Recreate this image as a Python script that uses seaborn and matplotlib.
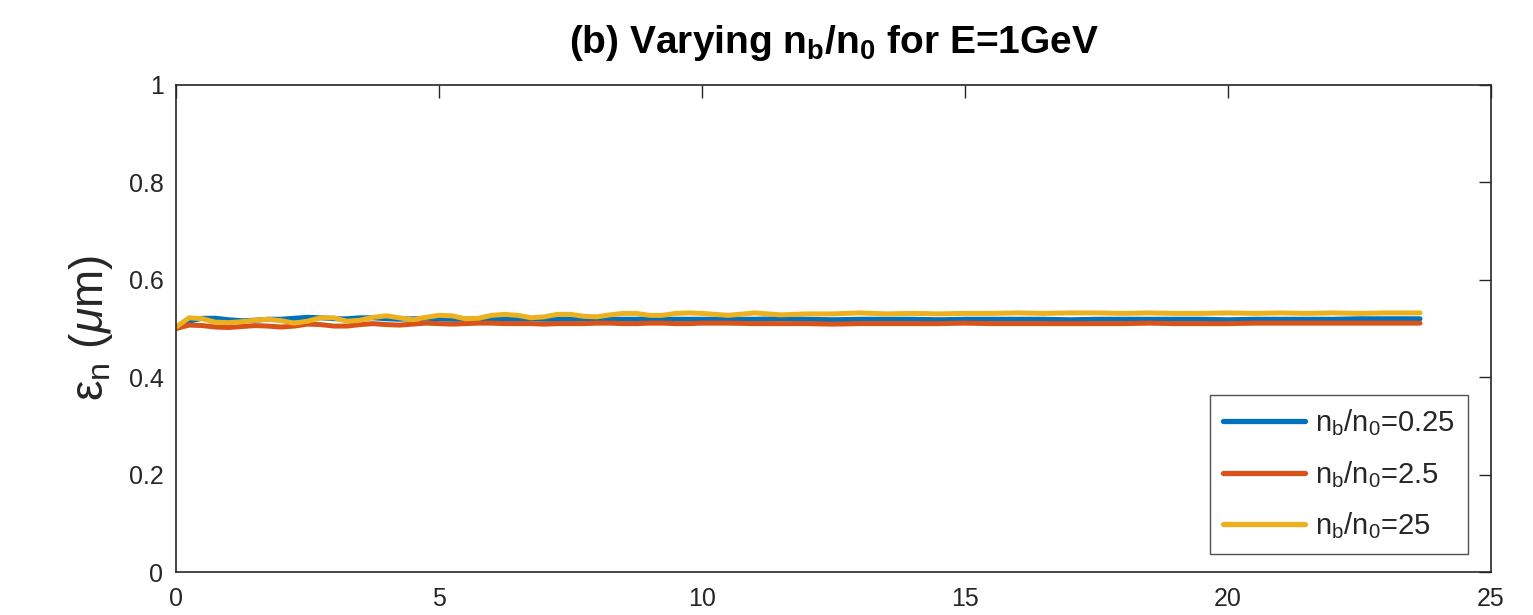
import numpy as np
import pandas as pd
import matplotlib
matplotlib.use("Agg")
import matplotlib.pyplot as plt
import seaborn as sns

# propagation distance (shared by all three runs)
x_vals = [0.0, 0.25, 0.5, 0.75, 1.0, 1.25, 1.5, 1.75, 2.0, 2.25, 2.5, 2.75, 3.0,
          3.25, 3.5, 3.75, 4.0, 4.25, 4.5, 4.75, 5.0, 5.25, 5.5, 5.75, 6.0, 6.25,
          6.5, 6.75, 7.0, 7.25, 7.5, 7.75, 8.0, 8.25, 8.5, 8.75, 9.0, 9.25, 9.5,
          9.75, 10.0, 10.5, 11.0, 11.5, 12.0, 12.5, 13.0, 13.5, 14.0, 14.5, 15.0,
          15.5, 16.0, 16.5, 17.0, 17.5, 18.0, 18.5, 19.0, 19.5, 20.0, 20.5, 21.0,
          21.5, 22.0, 22.5, 23.0, 23.5, 23.65]

# normalised emittance (um) for each density ratio
eps_025 = [0.500, 0.515, 0.521, 0.521, 0.518, 0.516, 0.517, 0.519, 0.519, 0.521,
           0.523, 0.522, 0.520, 0.520, 0.522, 0.522, 0.520, 0.519, 0.520, 0.521,
           0.520, 0.519, 0.519, 0.520, 0.520, 0.519, 0.519, 0.520, 0.519, 0.519,
           0.519, 0.520, 0.519, 0.519, 0.519, 0.519, 0.520, 0.519, 0.519, 0.519,
           0.519, 0.519, 0.519, 0.520, 0.519, 0.518, 0.519, 0.519, 0.519, 0.518,
           0.519, 0.519, 0.519, 0.519, 0.518, 0.519, 0.519, 0.519, 0.519, 0.519,
           0.518, 0.519, 0.519, 0.519, 0.519, 0.520, 0.520, 0.520, 0.520]
eps_25 = [0.500, 0.507, 0.506, 0.503, 0.502, 0.504, 0.506, 0.505, 0.503, 0.505,
          0.509, 0.508, 0.505, 0.505, 0.508, 0.510, 0.508, 0.507, 0.509, 0.511,
          0.510, 0.509, 0.510, 0.511, 0.511, 0.510, 0.510, 0.510, 0.509, 0.510,
          0.510, 0.510, 0.511, 0.511, 0.510, 0.510, 0.511, 0.511, 0.510, 0.510,
          0.511, 0.511, 0.510, 0.510, 0.510, 0.509, 0.510, 0.510, 0.510, 0.510,
          0.511, 0.510, 0.510, 0.510, 0.510, 0.510, 0.510, 0.511, 0.510, 0.510,
          0.510, 0.511, 0.511, 0.511, 0.511, 0.511, 0.511, 0.511, 0.511]
eps_250 = [0.503, 0.522, 0.520, 0.513, 0.512, 0.514, 0.517, 0.519, 0.516, 0.511,
           0.515, 0.522, 0.522, 0.515, 0.517, 0.523, 0.526, 0.522, 0.518, 0.523,
           0.527, 0.526, 0.520, 0.521, 0.527, 0.529, 0.527, 0.522, 0.524, 0.529,
           0.529, 0.525, 0.524, 0.528, 0.531, 0.531, 0.527, 0.527, 0.531, 0.532,
           0.531, 0.527, 0.532, 0.528, 0.530, 0.530, 0.532, 0.530, 0.531, 0.530,
           0.531, 0.531, 0.532, 0.531, 0.532, 0.532, 0.531, 0.532, 0.531, 0.531,
           0.532, 0.531, 0.532, 0.531, 0.532, 0.531, 0.532, 0.532, 0.532]

labels = [r"n$_\mathregular{b}$/n$_\mathregular{0}$=0.25",
          r"n$_\mathregular{b}$/n$_\mathregular{0}$=2.5",
          r"n$_\mathregular{b}$/n$_\mathregular{0}$=25"]
colors = ["#0072BD", "#D95319", "#EDB120"]

x_ticks = [0, 5, 10, 15, 20, 25]
y_ticks = [0, 0.2, 0.4, 0.6, 0.8, 1]
y_tick_labels = ["0", "0.2", "0.4", "0.6", "0.8", "1"]

df = pd.concat([
    pd.DataFrame({"x": x_vals, "eps": vals, "case": lab})
    for vals, lab in zip([eps_025, eps_25, eps_250], labels)
])

sns.set_style("white")
plt.rcParams["font.family"] = ["Liberation Sans", "DejaVu Sans"]
plt.rcParams["mathtext.fontset"] = "custom"
plt.rcParams["mathtext.rm"] = "Liberation Sans"
plt.rcParams["mathtext.it"] = "Liberation Sans:italic"
plt.rcParams["mathtext.bf"] = "Liberation Sans:bold"

fig = plt.figure(figsize=(15.33, 6.15), dpi=100)
ax = fig.add_axes([176 / 1533, 43 / 615, 1315 / 1533, 487 / 615])

sns.lineplot(data=df, x="x", y="eps", hue="case", hue_order=labels,
             palette=colors, linewidth=3.6, estimator=None, sort=False, ax=ax)

ax.set_xlim(0, 25)
ax.set_ylim(0, 1)
ax.set_xticks(x_ticks)
ax.set_xticklabels([str(t) for t in x_ticks])
ax.set_yticks(y_ticks)
ax.set_yticklabels(y_tick_labels)
ax.tick_params(direction="in", length=9, width=1.0, colors="#262626",
               labelsize=18, top=True, right=True)
ax.tick_params(axis="x", pad=11)
ax.tick_params(axis="y", pad=9)
for s in ax.spines.values():
    s.set_color("#262626")
    s.set_linewidth(1.2)

ax.set_xlabel("")
ax.set_ylabel(r"ε$_\mathregular{n}$ ($\mu$m)", fontsize=33, color="#262626", labelpad=10)
ax.set_title(r"(b) Varying n$_\mathbf{b}$/n$_\mathbf{0}$ for E=1GeV",
             fontsize=28, fontweight="bold", color="#000000", pad=23)

leg = ax.legend(loc="lower right", bbox_to_anchor=(1292 / 1315, 18 / 487),
                borderaxespad=0, fontsize=21, frameon=True, fancybox=False,
                handlelength=2.8, handletextpad=0.35, labelspacing=0.7,
                borderpad=0.45)
leg.get_frame().set_edgecolor("#262626")
leg.get_frame().set_linewidth(1.0)
for line in leg.get_lines():
    line.set_linewidth(3.8)

plt.savefig("out.png", dpi=100)
